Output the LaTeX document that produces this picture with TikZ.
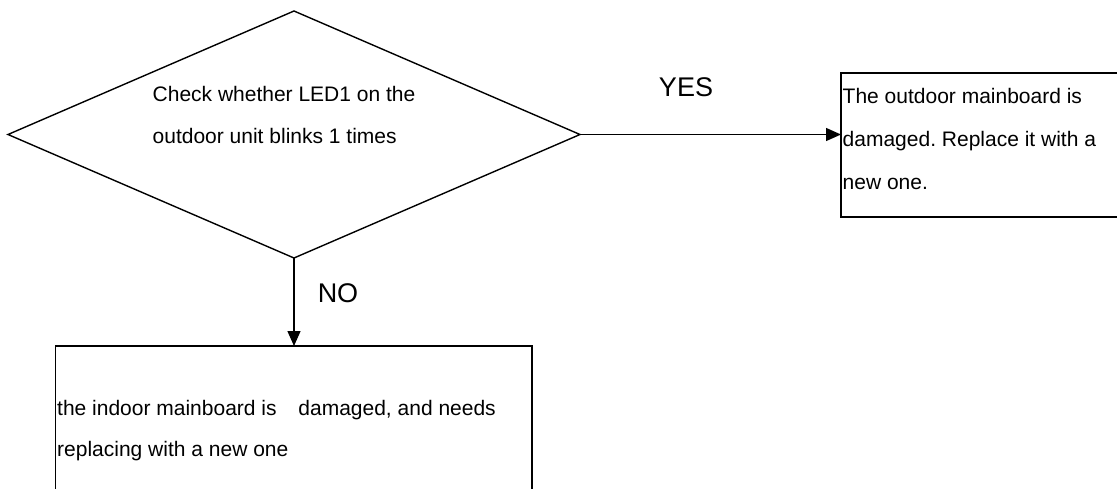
\documentclass[tikz,border=0pt]{standalone}
\usepackage{fontspec}
\setmainfont{Liberation Sans}
\usetikzlibrary{shapes.geometric,arrows.meta}
\frenchspacing
\begin{document}
\begin{tikzpicture}[x=1pt,y=-1pt,
  every path/.style={line width=1.4pt},
  decision/.style={draw, diamond, minimum width=572pt, minimum height=247pt, inner sep=0pt, outer sep=0pt},
  txt/.style={anchor=base west, inner sep=0pt, font=\fontsize{21}{24}\selectfont},
  lbl/.style={inner sep=0pt, font=\fontsize{27}{30}\selectfont},
  flow/.style={-{Triangle[length=15pt,width=13pt]}}]
\useasboundingbox (0,0) rectangle (1117,488);
\node[decision] (dia) at (294,134.5) {};
\node[txt] (d1) at (152,101.5) {Check whether LED1 on the};
\node[txt] (d2) at (152,143.5) {outdoor unit blinks 1 times};
% right box
\draw (841,73) rectangle (1125,217);
\coordinate (rbw) at (841,134.5);
\node[txt] (r1) at (842,103.5) {The outdoor mainboard is};
\node[txt] (r2) at (842,146.5) {damaged. Replace it with a};
\node[txt] (r3) at (842,189.5) {new one.};
% bottom box
\draw (55.5,346) rectangle (532,500);
\coordinate (bbn) at (294,346);
\node[txt] (b1) at (56.5,415.5) {the indoor mainboard is\hspace{16pt} damaged, and needs};
\node[txt] (b2) at (56.5,456.5) {replacing with a new one};
% connectors
\draw[flow] (dia.east) -- (rbw);
\draw[flow] (dia.south) -- (bbn);
\node[lbl] (yes) at (686,87) {YES};
\node[lbl] (no) at (338,293) {NO};
\end{tikzpicture}
\end{document}
